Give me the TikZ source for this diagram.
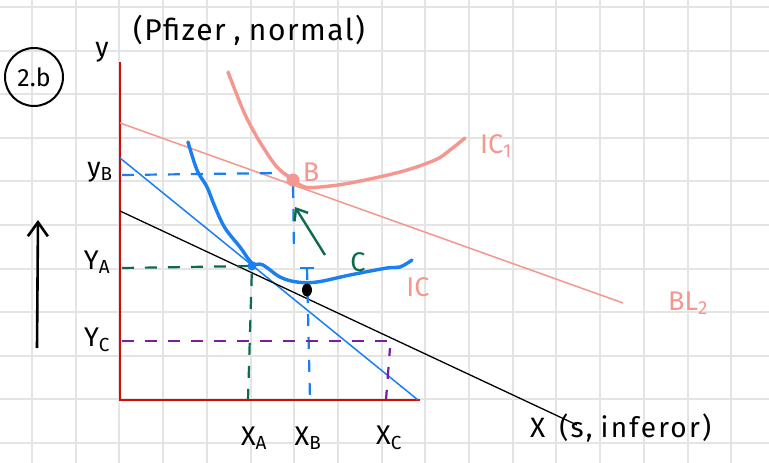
\documentclass[tikz,border=0pt]{standalone}
\usepackage{fontspec}
\setmainfont{Fira Sans}
\usetikzlibrary{arrows.meta}
\definecolor{gridc}{HTML}{E4E4E4}
\definecolor{axisred}{HTML}{D10A0A}
\definecolor{pinkc}{HTML}{F5968F}
\definecolor{bluec}{HTML}{1A7FF0}
\definecolor{greenc}{HTML}{0B6B4A}
\definecolor{purplec}{HTML}{7B1E9E}
\tikzset{
  gridline/.style={gridc, line width=2pt},
  axisline/.style={axisred, line width=2.8pt},
  budget/.style={line width=1.5pt},
  curve/.style={line width=3.4pt, line cap=round, line join=round},
  dashline/.style={line width=2.2pt, dash pattern=on 12pt off 11pt},
  lbl/.style={inner sep=0pt, font=\fontsize{27}{30}\selectfont},
  pinklbl/.style={lbl, text=pinkc},
}
\begin{document}
\begin{tikzpicture}[x=1pt,y=-1pt]
\useasboundingbox (0,0) rectangle (769,463);
\fill[white] (0,0) rectangle (769,463);
% grid
\foreach \i in {0,...,17} \draw[gridline] ({32+43.7*\i},0) -- ({32+43.7*\i},463);
\foreach \j in {0,...,10} \draw[gridline] (0,{7+43.6*\j}) -- (769,{7+43.6*\j});

% axes
\coordinate (O) at (120,400);
\coordinate (Ytop) at (120,62);
\coordinate (Xend) at (420,400);
\draw[axisline] (Ytop) -- (O) -- (Xend);

% budget lines
\coordinate (bl2a) at (120,123);
\coordinate (bl2b) at (623,303);
\draw[budget, pinkc] (bl2a) -- (bl2b);
\coordinate (bla) at (120,158);
\coordinate (blb) at (418,400);
\draw[budget, bluec] (bla) -- (blb);
\coordinate (bka) at (120,211);
\coordinate (bkb) at (577,425);
\draw[budget, black, line width=1.3pt] (bka) -- (bkb);

% dashed guides
\coordinate (yB) at (122,175);
\coordinate (yBe) at (282,173);
\draw[dashline, bluec] (yB) -- (yBe) to[out=0,in=100] (290,180);
\coordinate (xBt) at (293,186);
\coordinate (xBm) at (294,252);
\coordinate (xBm2) at (307,268);
\coordinate (xB) at (310,400);
\draw[dashline, bluec] (xBt) -- (xBm);
\draw[dashline, bluec] (xBm2) -- (xB);
\draw[bluec, line width=2.2pt] (300,268) -- (314,268);

\coordinate (yA) at (122,268);
\coordinate (A) at (252,266);
\coordinate (xA) at (248,400);
\draw[dashline, greenc] (yA) -- (A) -- (xA);

\coordinate (yC) at (122,341);
\coordinate (Cc) at (388,341);
\coordinate (xC) at (386,400);
\draw[dashline, purplec] (yC) -- (Cc);
\draw[dashline, purplec, dash phase=4pt] (390,348) -- (xC);

% indifference curves
\draw[curve, pinkc] plot[smooth, tension=0.6] coordinates {(228,72) (243,110) (253,130) (263,147) (277,167) (293,180) (305,187) (320,187) (350,183) (400,172) (435,160) (450,150) (465,138)};
\draw[curve, bluec] plot[smooth, tension=0.6] coordinates {(188,142) (197,170) (207,187) (215,207) (225,228) (240,247) (252,263) (263,265) (280,277) (297,282) (317,282) (350,275) (387,268) (400,267) (412,260)};

% points
\fill[pinkc] (293,180) circle (6.5pt) coordinate (B);
\fill[bluec] (A) circle (4.5pt);
\fill[black] (307,290) ellipse (5pt and 6.5pt) coordinate (D);

% green arrow
\coordinate (garS) at (325,255);
\coordinate (garE) at (295,207);
\draw[greenc, line width=2.4pt, -{Straight Barb[length=10pt,width=16pt]}] (garS) -- (garE);

% big arrow on left
\coordinate (arS) at (37,348);
\coordinate (arE) at (38,220);
\draw[black, line width=2.6pt, -{Straight Barb[length=14pt,width=20pt]}] (arS) -- (arE);

% labels
\node[lbl, font=\fontsize{30}{33}\selectfont\addfontfeature{LetterSpace=5}] (title) at (249,30) {(Pfizer\hspace{8pt},\hspace{8pt}normal)};
\node[draw, circle, line width=2pt, inner sep=0pt, minimum size=58pt, font=\fontsize{25}{27}\selectfont] (num) at (34,77) {2.b};
\node[lbl] (ylab) at (102,52) {y};
\node[lbl] (yBl) at (100,172) {y\textsubscript{B}};
\node[lbl] (yAl) at (97,262) {Y\textsubscript{A}};
\node[lbl] (yCl) at (97,340) {Y\textsubscript{C}};
\node[lbl] (xAl) at (254,438) {X\textsubscript{A}};
\node[lbl] (xBl) at (308,438) {X\textsubscript{B}};
\node[lbl] (xCl) at (389,438) {X\textsubscript{C}};
\node[lbl, anchor=west, font=\fontsize{28}{30}\selectfont\addfontfeature{LetterSpace=8}] (xlab) at (530,428) {X\hspace{14pt}(s,\hspace{8pt}inferor)};
\node[pinklbl] (Bl) at (311,172) {B};
\node[pinklbl] (IC1) at (496,146) {IC\textsubscript{1}};
\node[pinklbl] (ICl) at (418,287) {IC};
\node[pinklbl] (BL2) at (688,303) {BL\textsubscript{2}};
\node[lbl, text=greenc] (Cl) at (358,262) {C};
\end{tikzpicture}
\end{document}
